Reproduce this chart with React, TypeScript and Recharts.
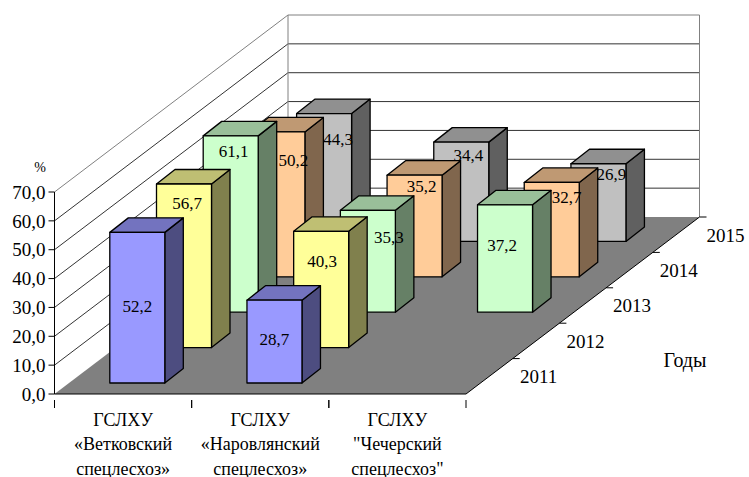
import { Bar, BarChart, LabelList, usePlotArea, XAxis, YAxis } from "recharts"

const categories = ["Ветковский", "Наровлянский", "Чечерский"]
const categoryLines = [
  ["ГСЛХУ", "«Ветковский", "спецлесхоз»"],
  ["ГСЛХУ", "«Наровлянский", "спецлесхоз»"],
  ["ГСЛХУ", "\"Чечерский", "спецлесхоз\""],
]
const years = ["2011", "2012", "2013", "2014", "2015"]
const values2011 = [52.2, 28.7, null]
const values2012 = [56.7, 40.3, null]
const values2013 = [61.1, 35.3, 37.2]
const values2014 = [50.2, 35.2, 32.7]
const values2015 = [44.3, 34.4, 26.9]
const yTicks = [0, 10, 20, 30, 40, 50, 60, 70]

const seriesValues = [values2011, values2012, values2013, values2014, values2015]
const data = categories.map((name, i) => {
  const row: Record<string, string | number | null> = { name }
  years.forEach((year, yi) => {
    row[year] = seriesValues[yi][i]
  })
  return row
})

// front, side, top
const COLORS = [
  ["#9999ff", "#4d4d80", "#7373bf"],
  ["#ffff99", "#80804d", "#bfbf73"],
  ["#ccffcc", "#668066", "#99bf99"],
  ["#ffcc99", "#80664d", "#bf9973"],
  ["#c0c0c0", "#606060", "#909090"],
]
const FONT = "'Liberation Serif', 'Times New Roman', serif"

// oblique projection: one year of depth moves this far on screen
const STEP_X = 46.7
const STEP_Y = -35.4
const BAR_DEPTH_X = 18.5
const BAR_DEPTH_Y = -14.5
const FIRST_X = 14.3
const FIRST_Y = -11

// label position relative to the top centre of the front face [dx, dy], per year and category
const LABEL_NUDGE = [
  [[0, 74], [0, 39], [0, 0]],
  [[3, 20], [1, 30], [0, 0]],
  [[3, 16], [21, 27], [-3, 41]],
  [[16, 29], [7, 11], [15, 15]],
  [[14, 26], [7, 13], [13, 11]],
]

function Box3D(props: any) {
  const { x, y, width, height, yearIndex } = props
  if (!height || height <= 0) return null
  const dx = FIRST_X + STEP_X * yearIndex
  const dy = FIRST_Y + STEP_Y * yearIndex
  const l = x + dx
  const r = l + width
  const t = y + dy
  const b = t + height
  const [front, side, top] = COLORS[yearIndex]
  const stroke = { stroke: "#000", strokeWidth: 1.3, strokeLinejoin: "round" as const }
  return (
    <g>
      <polygon
        points={`${r},${t} ${r + BAR_DEPTH_X},${t + BAR_DEPTH_Y} ${r + BAR_DEPTH_X},${b + BAR_DEPTH_Y} ${r},${b}`}
        fill={side}
        {...stroke}
      />
      <polygon
        points={`${l},${t} ${l + BAR_DEPTH_X},${t + BAR_DEPTH_Y} ${r + BAR_DEPTH_X},${t + BAR_DEPTH_Y} ${r},${t}`}
        fill={top}
        {...stroke}
      />
      <rect x={l} y={t} width={width} height={height} fill={front} {...stroke} />
    </g>
  )
}

function BoxLabel(props: any) {
  const { x, y, width, value, index, yearIndex } = props
  if (value == null) return null
  const [nx, ny] = LABEL_NUDGE[yearIndex][index]
  return (
    <text
      x={x + FIRST_X + STEP_X * yearIndex + width / 2 + nx}
      y={y + FIRST_Y + STEP_Y * yearIndex + ny}
      textAnchor="middle"
      dominantBaseline="central"
      fontFamily={FONT}
      fontSize={17}
      fill="#000"
    >
      {String(value).replace(".", ",")}
    </text>
  )
}

function Walls() {
  const plot = usePlotArea()
  if (!plot) return null
  const depthX = STEP_X * years.length
  const depthY = STEP_Y * years.length
  const left = plot.x
  const right = plot.x + plot.width
  const floor = plot.y + plot.height
  const yOf = (v: number) => floor - (v / yTicks[yTicks.length - 1]) * plot.height
  return (
    <g>
      <polygon
        points={`${left},${floor} ${right},${floor} ${right + depthX},${floor + depthY} ${left + depthX},${floor + depthY}`}
        fill="#808080"
      />
      {yTicks.slice(1).map((v, i) => (
        <polyline
          key={v}
          points={`${left},${yOf(v)} ${left + depthX},${yOf(v) + depthY} ${right + depthX},${yOf(v) + depthY}`}
          fill="none"
          stroke={i === yTicks.length - 2 ? "#808080" : "#333"}
          strokeWidth={1}
        />
      ))}
      <line x1={left + depthX} y1={yOf(70) + depthY} x2={left + depthX} y2={floor + depthY} stroke="#808080" />
      <line x1={right + depthX} y1={yOf(70) + depthY} x2={right + depthX} y2={floor + depthY} stroke="#808080" />
      <line x1={right} y1={floor} x2={right + depthX} y2={floor + depthY} stroke="#000" />
      {years.map((year, i) => {
        const tx = right + STEP_X * (i + 1)
        const ty = floor + STEP_Y * (i + 1)
        return (
          <g key={year}>
            <line x1={tx} y1={ty} x2={tx + 7} y2={ty} stroke="#000" />
            <text
              x={tx + 26}
              y={ty + 18}
              textAnchor="middle"
              dominantBaseline="central"
              fontFamily={FONT}
              fontSize={19}
              fill="#000"
            >
              {year}
            </text>
          </g>
        )
      })}
      <text x={685} y={360} textAnchor="middle" dominantBaseline="central" fontFamily={FONT} fontSize={20} fill="#000">
        Годы
      </text>
      <text x={40} y={167} textAnchor="middle" dominantBaseline="central" fontFamily={FONT} fontSize={14} fill="#000">
        %
      </text>
    </g>
  )
}

function CategoryTick(props: any) {
  const { x, y, payload, index, width } = props
  const half = width / categories.length / 2
  return (
    <g>
      <line x1={x - half} y1={y - 2} x2={x - half} y2={y + 6} stroke="#000" />
      <line x1={x + half} y1={y - 2} x2={x + half} y2={y + 6} stroke="#000" />
      {categoryLines[index ?? payload.index].map((line, i) => (
        <text
          key={i}
          x={x}
          y={419.5 + i * 24.5}
          textAnchor="middle"
          dominantBaseline="central"
          fontFamily={FONT}
          fontSize={18}
          fill="#000"
        >
          {line}
        </text>
      ))}
    </g>
  )
}

export default function App() {
  // back row first so nearer boxes cover it
  const order = years.map((year, i) => ({ year, i })).reverse()
  return (
    <div style={{ position: "absolute", left: 0, top: 0 }}>
      <BarChart
        width={749}
        height={477}
        data={data}
        margin={{ top: 192, right: 283, bottom: 0, left: 0 }}
        barSize={55}
        barGap={-55}
      >
        <Walls />
        <XAxis
          dataKey="name"
          height={83}
          interval={0}
          tickLine={false}
          axisLine={{ stroke: "#000" }}
          tick={(p: any) => <CategoryTick {...p} />}
        />
        <YAxis
          width={54.5}
          domain={[0, 70]}
          ticks={yTicks}
          interval={0}
          tickSize={6}
          tickMargin={3}
          axisLine={{ stroke: "#000" }}
          tickLine={{ stroke: "#000" }}
          tick={{ fontFamily: FONT, fontSize: 19, fill: "#000" }}
          tickFormatter={(v: number) => v.toFixed(1).replace(".", ",")}
        />
        {order.map(({ year, i }) => (
          <Bar
            key={year}
            dataKey={year}
            isAnimationActive={false}
            shape={(p: any) => <Box3D {...p} yearIndex={i} />}
          >
            <LabelList dataKey={year} content={(p: any) => <BoxLabel {...p} yearIndex={i} />} />
          </Bar>
        ))}
      </BarChart>
    </div>
  )
}
